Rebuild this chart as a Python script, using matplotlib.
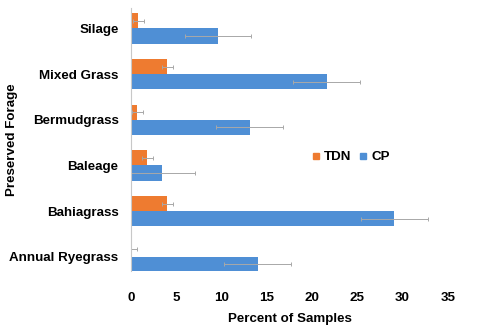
import numpy as np
import matplotlib.pyplot as plt
from matplotlib.lines import Line2D

plt.rcParams['font.family'] = ['Liberation Sans', 'DejaVu Sans']

# bottom to top, as drawn
forages = ["Annual Ryegrass", "Bahiagrass", "Baleage", "Bermudgrass", "Mixed Grass", "Silage"]
tdn = [0.0, 4.0, 1.8, 0.7, 4.0, 0.8]
tdn_err = [0.7, 0.6, 0.6, 0.6, 0.6, 0.6]
cp = [14.0, 29.1, 3.4, 13.1, 21.6, 9.6]
cp_err = [3.7, 3.7, 3.7, 3.7, 3.7, 3.6]

ORANGE = "#ee7b30"
BLUE = "#4f8fd5"
ERR = "#a8a8a8"
FS = 9.6

fig = plt.figure(figsize=(4.8, 3.3), dpi=100)
ax = fig.add_axes([0.273, 0.179, 0.66, 0.797])

y = np.arange(len(forages))
h = 0.33
ax.barh(y + h / 2, tdn, height=h, color=ORANGE, xerr=tdn_err,
        error_kw=dict(ecolor=ERR, elinewidth=0.7, capsize=1.2, capthick=0.7))
ax.barh(y - h / 2, cp, height=h, color=BLUE, xerr=cp_err,
        error_kw=dict(ecolor=ERR, elinewidth=0.7, capsize=1.2, capthick=0.7))

ax.set_xlim(0, 35)
ax.set_ylim(-0.31, 5.45)
ax.set_xticks(range(0, 36, 5))
ax.set_yticks(y)
ax.set_yticklabels(forages)

for s in ["top", "right", "bottom"]:
    ax.spines[s].set_visible(False)
ax.spines["left"].set_color("#c8c8c8")
ax.spines["left"].set_linewidth(0.8)

ax.tick_params(axis="x", length=0, pad=15, labelsize=FS)
ax.tick_params(axis="y", length=0, pad=9, labelsize=FS)
for lab in ax.get_xticklabels() + ax.get_yticklabels():
    lab.set_fontweight("bold")

ax.set_xlabel("Percent of Samples", fontsize=FS, fontweight="bold", labelpad=7)
fig.text(12 / 480, 0.5 * (0.179 + 0.976), "Preserved Forage", rotation=90,
         ha="center", va="center", fontsize=FS, fontweight="bold")

handles = [Line2D([], [], marker="s", linestyle="", color=ORANGE, markersize=4),
           Line2D([], [], marker="s", linestyle="", color=BLUE, markersize=4)]
leg = ax.legend(handles, ["TDN", "CP"], loc="center", bbox_to_anchor=(351 / 480, 1 - 157 / 330),
                bbox_transform=fig.transFigure, ncol=2, frameon=False,
                handlelength=0.6, handletextpad=0.3, columnspacing=0.6,
                prop=dict(size=FS, weight="bold"))

fig.savefig("out.png", dpi=100)
